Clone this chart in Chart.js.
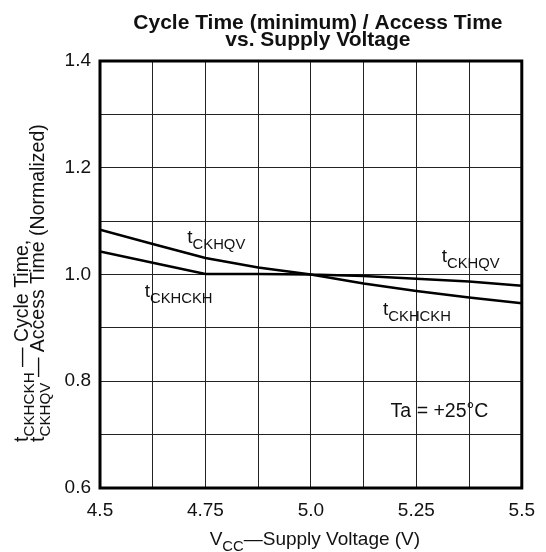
<!DOCTYPE html>
<html>
<head>
<meta charset="utf-8">
<script src="https://cdn.jsdelivr.net/npm/chart.js@4/dist/chart.umd.min.js"></script>
<style>
  html, body { margin: 0; padding: 0; background: #fff; }
  #chart { display: block; }
</style>
</head>
<body>
<canvas id="chart" width="546" height="552"></canvas>
<script>
// Supply voltage (V) and normalized timings
const voltage = [4.5, 4.625, 4.75, 4.875, 5.0, 5.125, 5.25, 5.375, 5.5];
const accessTime = [1.084, 1.057, 1.031, 1.013, 1.0, 0.997, 0.992, 0.987, 0.979]; // tCKHQV
const cycleTime = [1.043, 1.022, 1.001, 1.001, 1.0, 0.983, 0.969, 0.957, 0.946]; // tCKHCKH

const xTickLabels = ['4.5', '', '4.75', '', '5.0', '', '5.25', '', '5.5'];
const yTickLabels = ['0.6', '', '0.8', '', '1.0', '', '1.2', '', '1.4'];

const FONT = '"Liberation Sans", Arial, sans-serif';
const INK = '#111';
const SUB = 0.78; // subscript size ratio

// text with subscripts: parts = [[text, isSub], ...]
function richWidth(ctx, parts, size) {
  let w = 0;
  for (const [t, sub] of parts) {
    ctx.font = `${sub ? size * SUB : size}px ${FONT}`;
    w += ctx.measureText(t).width;
  }
  return w;
}

function drawRich(ctx, parts, x, y, size, align) {
  let cx = x;
  if (align === 'center') cx -= richWidth(ctx, parts, size) / 2;
  ctx.textBaseline = 'alphabetic';
  ctx.textAlign = 'left';
  for (const [t, sub] of parts) {
    ctx.font = `${sub ? size * SUB : size}px ${FONT}`;
    ctx.fillText(t, cx, sub ? y + size * 0.3 : y);
    cx += ctx.measureText(t).width;
  }
}

const points = ys => voltage.map((v, i) => ({ x: v, y: ys[i] }));

const decorations = {
  id: 'decorations',
  afterDraw(chart) {
    const { ctx, chartArea: a, scales: { x, y } } = chart;
    ctx.save();
    ctx.fillStyle = INK;

    // frame
    ctx.strokeStyle = '#000';
    ctx.lineWidth = 3;
    ctx.strokeRect(a.left, a.top, a.right - a.left, a.bottom - a.top);

    // title
    const cx = (a.left + a.right) / 2;
    ctx.font = `bold 21px ${FONT}`;
    ctx.textAlign = 'center';
    ctx.textBaseline = 'alphabetic';
    ctx.fillText('Cycle Time (minimum) / Access Time', cx + 7, 29);
    ctx.fillText('vs. Supply Voltage', cx + 7, 46);

    // curve labels
    const at = (vx, vy) => [x.getPixelForValue(vx), y.getPixelForValue(vy)];
    drawRich(ctx, [['t'], ['CKHQV', 1]], ...at(4.707, 1.059), 19);
    drawRich(ctx, [['t'], ['CKHCKH', 1]], ...at(4.606, 0.958), 19);
    drawRich(ctx, [['t'], ['CKHQV', 1]], ...at(5.31, 1.023), 19);
    drawRich(ctx, [['t'], ['CKHCKH', 1]], ...at(5.171, 0.924), 19);
    drawRich(ctx, [['Ta = +25°C']], ...at(5.189, 0.733), 19.5);

    // x axis title
    drawRich(ctx, [['V'], ['CC', 1], ['\u2014Supply Voltage (V)']], cx + 4, 545, 19, 'center');

    // y axis title, two rotated lines
    ctx.translate(0, 442);
    ctx.rotate(-Math.PI / 2);
    drawRich(ctx, [['t'], ['CKHCKH', 1], [' \u2014 Cycle Time,']], 0, 28, 19.5);
    drawRich(ctx, [['t'], ['CKHQV', 1], [' \u2014 Access Time (Normalized)']], 0, 44, 19.5);
    ctx.restore();
  }
};

new Chart(document.getElementById('chart'), {
  type: 'line',
  data: {
    datasets: [
      { label: 'tCKHQV', data: points(accessTime) },
      { label: 'tCKHCKH', data: points(cycleTime) }
    ]
  },
  options: {
    responsive: false,
    animation: false,
    devicePixelRatio: 1,
    layout: { padding: { top: 61, right: 21, left: 0, bottom: 0 } },
    elements: {
      line: { borderColor: '#000', borderWidth: 2.5, tension: 0, fill: false },
      point: { radius: 0 }
    },
    plugins: { legend: { display: false }, title: { display: false }, tooltip: { enabled: false } },
    scales: {
      x: {
        type: 'linear', min: 4.5, max: 5.5,
        afterFit(s) { s.height = 64; },
        ticks: {
          stepSize: 0.125, autoSkip: false, maxRotation: 0, padding: 11,
          color: INK, font: { family: FONT, size: 19 },
          callback: (v, i) => xTickLabels[i]
        },
        grid: { color: '#222', lineWidth: 1, drawTicks: false },
        border: { display: false }
      },
      y: {
        type: 'linear', min: 0.6, max: 1.4,
        afterFit(s) { s.width = 100; },
        ticks: {
          stepSize: 0.1, autoSkip: false, padding: 9,
          color: INK, font: { family: FONT, size: 19 },
          callback: (v, i) => yTickLabels[i]
        },
        grid: { color: '#222', lineWidth: 1, drawTicks: false },
        border: { display: false }
      }
    }
  },
  plugins: [decorations]
});
</script>
</body>
</html>
